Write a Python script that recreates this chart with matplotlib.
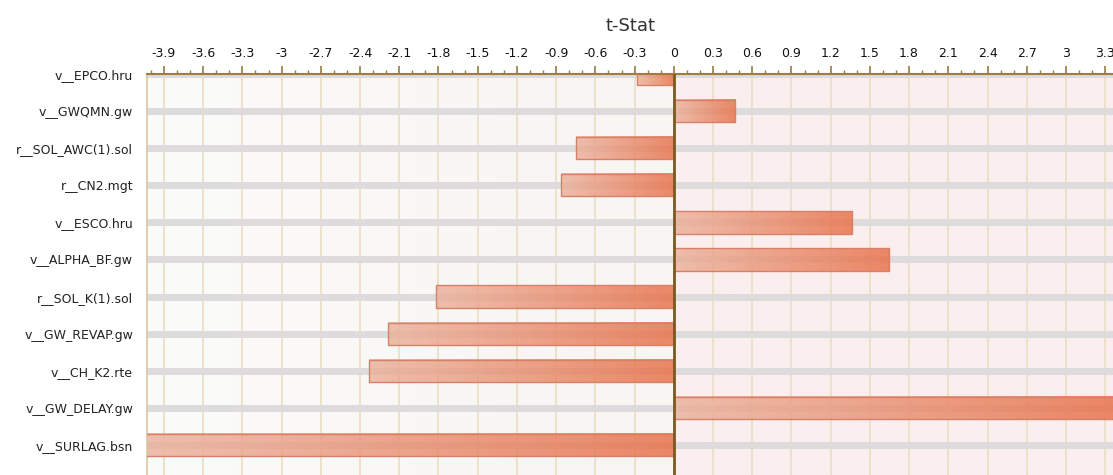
import numpy as np
import matplotlib.pyplot as plt
from matplotlib.colors import LinearSegmentedColormap

params = ["v__EPCO.hru", "v__GWQMN.gw", "r__SOL_AWC(1).sol", "r__CN2.mgt",
          "v__ESCO.hru", "v__ALPHA_BF.gw", "r__SOL_K(1).sol", "v__GW_REVAP.gw",
          "v__CH_K2.rte", "v__GW_DELAY.gw", "v__SURLAG.bsn"]
t_stat = [-0.28, 0.47, -0.75, -0.86, 1.36, 1.65, -1.82, -2.19, -2.33, 3.55, -4.25]

xmin, xmax = -4.03, 3.36
major_ticks = np.round(np.arange(-3.9, 3.31, 0.3), 1) + 0.0
tick_labels = ["%g" % (0 if abs(t) < 1e-9 else t) for t in major_ticks]

plt.rcParams['font.family'] = ['DejaVu Sans']

fig = plt.figure(figsize=(11.13, 4.75), dpi=100)
ax = fig.add_axes([147 / 1113, 0.0, 1 - 147 / 1113, 1 - 74 / 475])

ypos = np.arange(len(params))
ymax = 10.81

# background: pale grey on the negative side, pale pink on the positive side
bg_left = LinearSegmentedColormap.from_list("bgl", ["#fbfbfa", "#f8f5f3"])
bg_right = LinearSegmentedColormap.from_list("bgr", ["#fbeeee", "#fbeeee"])
grad = np.linspace(0, 1, 256).reshape(1, -1)
ax.imshow(grad, cmap=bg_left, extent=(xmin, 0, ymax, 0), aspect="auto", zorder=0)
ax.imshow(grad, cmap=bg_right, extent=(0, xmax, ymax, 0), aspect="auto", zorder=0)

# grid lines and grey row bands
for t in major_ticks:
    ax.axvline(t, color="#ecdfc5", lw=1.3, zorder=1)
for y in ypos:
    ax.axhline(y, color="#dddbdb", lw=5, zorder=1.5)

# gradient bars
bar_cmap = LinearSegmentedColormap.from_list("bar", ["#ebb29c", "#e86f47"])
bars = ax.barh(ypos, t_stat, height=0.6, facecolor="none",
               edgecolor="#d6806a", lw=1.0, zorder=3)
for b in bars:
    x0, y0 = b.get_x(), b.get_y()
    w, h = b.get_width(), b.get_height()
    left = max(min(x0, x0 + w), xmin)
    right = min(max(x0, x0 + w), xmax)
    top = max(y0, 0)
    bottom = min(y0 + h, ymax)
    ax.imshow(grad, cmap=bar_cmap, extent=(left, right, bottom, top),
              aspect="auto", alpha=0.82, zorder=2)

ax.axvline(0, color="#7a5a1e", lw=2, zorder=4)

ax.set_xlim(xmin, xmax)
ax.set_ylim(ymax, 0)

ax.xaxis.tick_top()
ax.set_xticks(major_ticks)
ax.set_xticklabels(tick_labels, fontsize=9, color="#111111")
ax.set_xticks(np.arange(-4.0, 3.35, 0.1), minor=True)
ax.tick_params(axis="x", which="major", direction="out", length=6, width=1.2,
               color="#9a7a40", pad=4)
ax.tick_params(axis="x", which="minor", direction="out", length=3, width=1,
               color="#9a7a40")
ax.set_yticks(ypos)
ax.set_yticklabels(params, fontsize=9, color="#222222")
ax.tick_params(axis="y", length=0, pad=10)

ax.set_title("t-Stat", fontsize=13, color="#333333", pad=31)

for s in ["right", "bottom"]:
    ax.spines[s].set_visible(False)
ax.spines["top"].set_color("#a07c44")
ax.spines["top"].set_linewidth(1.5)
ax.spines["left"].set_color("#d9c7a0")
ax.spines["left"].set_linewidth(1.2)

fig.savefig("out.png", dpi=100)
